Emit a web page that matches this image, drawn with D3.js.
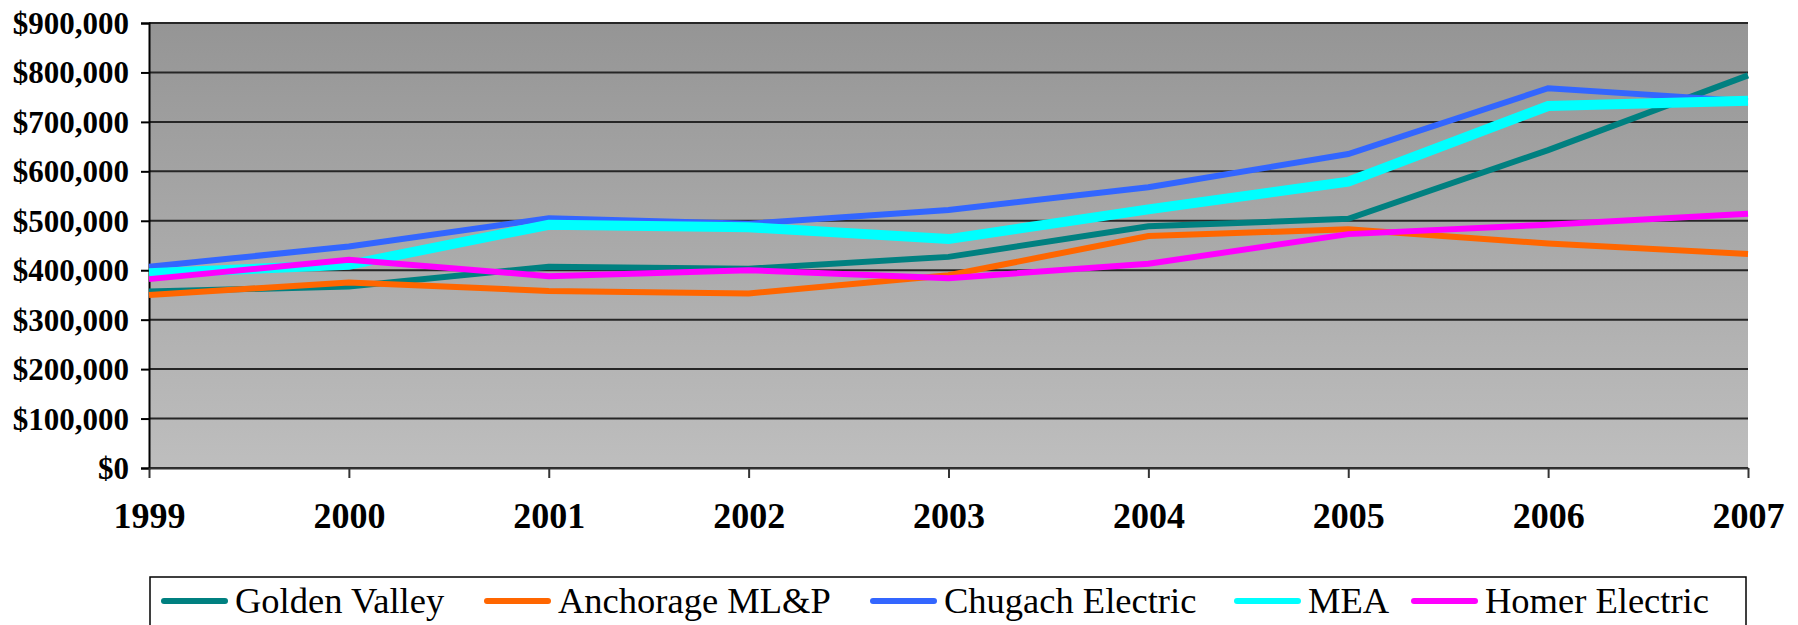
<html>
<head>
<style>
  body { margin: 0; background: #fff; }
  text { font-family: "Liberation Serif", "Times New Roman", serif; }
</style>
</head>
<body>
<script src="https://cdn.jsdelivr.net/npm/d3@7"></script>
<script>
var years = ["1999", "2000", "2001", "2002", "2003", "2004", "2005", "2006", "2007"];
var names = ["Golden Valley", "Anchorage ML&P", "Chugach Electric", "MEA", "Homer Electric"];
var goldenValley = [357000, 367000, 407000, 403000, 427000, 489000, 504000, 643000, 794000];
var anchorage    = [350000, 375000, 358000, 353000, 390000, 469000, 483000, 454000, 433000];
var chugach      = [407000, 448000, 505000, 494000, 522000, 568000, 635000, 768000, 742000];
var mea          = [394000, 411000, 492000, 487000, 463000, 523000, 579000, 732000, 743000];
var homer        = [382000, 421000, 388000, 400000, 384000, 413000, 473000, 492000, 514000];
var yTicks = [0, 100000, 200000, 300000, 400000, 500000, 600000, 700000, 800000, 900000];

var series = [goldenValley, anchorage, chugach, mea, homer];
var colors = ["#008080", "#ff6600", "#3366ff", "#00ffff", "#ff00ff"];
var widths = [6, 6, 6, 10, 6];

var W = 1798, H = 625;
var mLeft = 149, mRight = 1748, mTop = 23, mBottom = 468;

var svg = d3.select("body").append("svg")
  .attr("width", W).attr("height", H);

var defs = svg.append("defs");
var grad = defs.append("linearGradient").attr("id", "bg")
  .attr("x1", 0).attr("y1", 0).attr("x2", 0).attr("y2", 1);
grad.append("stop").attr("offset", "0%").attr("stop-color", "#959595");
grad.append("stop").attr("offset", "100%").attr("stop-color", "#bebebe");

var x = d3.scalePoint().domain(years).range([mLeft, mRight]);
var y = d3.scaleLinear().domain([0, 900000]).range([mBottom, mTop]);

svg.append("rect")
  .attr("x", mLeft).attr("y", mTop)
  .attr("width", mRight - mLeft).attr("height", mBottom - mTop)
  .attr("fill", "url(#bg)");

// gridlines
svg.append("g").selectAll("line").data(yTicks).enter().append("line")
  .attr("x1", mLeft).attr("x2", mRight)
  .attr("y1", function(d) { return y(d); }).attr("y2", function(d) { return y(d); })
  .attr("stroke", "#262626").attr("stroke-width", 2);

var fmt = d3.format(",");
var yAxis = svg.append("g").attr("transform", "translate(" + mLeft + ",0)")
  .call(d3.axisLeft(y).tickValues(yTicks).tickSize(8).tickPadding(12)
    .tickFormat(function(d) { return "$" + fmt(d); }));
yAxis.select(".domain").attr("stroke", "#000").attr("stroke-width", 2);
yAxis.selectAll(".tick line").attr("stroke", "#000").attr("stroke-width", 2);
yAxis.selectAll("text")
  .attr("font-family", "Liberation Serif").attr("font-weight", "bold")
  .attr("font-size", 31).attr("fill", "#000").attr("dy", "0.34em");

var xAxis = svg.append("g").attr("transform", "translate(0," + mBottom + ")")
  .call(d3.axisBottom(x).tickSize(10).tickSizeOuter(0).tickPadding(24));
xAxis.select(".domain").attr("stroke", "#333").attr("stroke-width", 2);
xAxis.selectAll(".tick line").attr("stroke", "#333").attr("stroke-width", 2);
xAxis.selectAll("text")
  .attr("font-family", "Liberation Serif").attr("font-weight", "bold")
  .attr("font-size", 36).attr("fill", "#000");

var line = d3.line()
  .x(function(d, i) { return x(years[i]); })
  .y(function(d) { return y(d); });

svg.append("g").selectAll("path").data(series).enter().append("path")
  .attr("d", line)
  .attr("fill", "none")
  .attr("stroke", function(d, i) { return colors[i]; })
  .attr("stroke-width", function(d, i) { return widths[i]; })
  .attr("stroke-linejoin", "miter");

// legend
var legendStarts = [161, 484, 870, 1234, 1411];
svg.append("rect")
  .attr("x", 150).attr("y", 577).attr("width", 1596).attr("height", 80)
  .attr("fill", "#fff").attr("stroke", "#000").attr("stroke-width", 1.5);

var items = svg.append("g").selectAll("g").data(names).enter().append("g")
  .attr("transform", function(d, i) { return "translate(" + legendStarts[i] + ",601)"; });
items.append("line")
  .attr("x1", 3).attr("x2", 64).attr("y1", 0).attr("y2", 0)
  .attr("stroke", function(d, i) { return colors[i]; })
  .attr("stroke-width", 6).attr("stroke-linecap", "round");
items.append("text")
  .attr("x", 74).attr("y", 12)
  .attr("font-family", "Liberation Serif").attr("font-size", 36.5)
  .attr("fill", "#000")
  .text(function(d) { return d; });
</script>
</body>
</html>
